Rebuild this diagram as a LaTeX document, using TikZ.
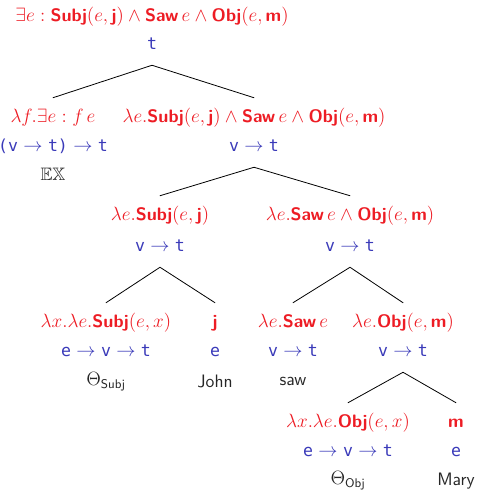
\documentclass[tikz,border=0pt]{standalone}
\usepackage{amsmath,amssymb}
\usepackage{fontspec}
\setmonofont{DejaVu Sans Mono}[Scale=0.92]
\definecolor{termred}{RGB}{237,28,36}
\definecolor{typeblue}{RGB}{58,58,185}
\newcommand{\cn}[1]{\textsf{\textbf{#1}}}
\newcommand{\tyto}{${}\rightarrow{}$}
\tikzset{
  term/.style={text=termred, text height=10pt, text depth=3pt, inner xsep=0pt, inner ysep=8.5pt},
  typ/.style={text=typeblue, font=\ttfamily\fontsize{13.5}{16}\selectfont, text height=10pt, text depth=3pt, inner xsep=0pt, inner ysep=8.5pt},
  word/.style={text=black!85, font=\sffamily\fontsize{13.5}{16}\selectfont},
  branch/.style={line width=0.6pt}
}
\begin{document}
\begin{tikzpicture}[x=0.75pt,y=-0.75pt, font=\fontsize{13.5}{16}\selectfont, line join=round, line cap=round]
\useasboundingbox (0,0) rectangle (477,491);
% root
\node[term] (rootT) at (152,17) {$\exists e:\cn{Subj}(e,\cn{j})\wedge\cn{Saw}\,e\wedge\cn{Obj}(e,\cn{m})$};
\node[typ] (rootY) at (152,45) {t};
% first level
\node[term] (exT) at (53,118) {$\lambda f.\exists e: f\,e$};
\node[typ] (exY) at (53,147) {(v\tyto t)\tyto t};
\node[word] (exW) at (53,174) {$\mathbb{EX}$};
\node[term] (predT) at (254,118) {$\lambda e.\cn{Subj}(e,\cn{j})\wedge\cn{Saw}\,e\wedge\cn{Obj}(e,\cn{m})$};
\node[typ] (predY) at (254,147) {v\tyto t};
% second level
\node[term] (subjT) at (160,216) {$\lambda e.\cn{Subj}(e,\cn{j})$};
\node[typ] (subjY) at (160,247) {v\tyto t};
\node[term] (sawobjT) at (350,216) {$\lambda e.\cn{Saw}\,e\wedge\cn{Obj}(e,\cn{m})$};
\node[typ] (sawobjY) at (350,247) {v\tyto t};
% third level
\node[term] (thetaST) at (106,323) {$\lambda x.\lambda e.\cn{Subj}(e,x)$};
\node[typ] (thetaSY) at (106,352) {e\tyto v\tyto t};
\node[word] (thetaSW) at (106,382) {$\Theta_{\mathsf{Subj}}$};
\node[term] (johnT) at (215,323) {$\cn{j}$};
\node[typ] (johnY) at (215,352) {e};
\node[word] (johnW) at (215,381) {John};
\node[term] (sawT) at (293,323) {$\lambda e.\cn{Saw}\,e$};
\node[typ] (sawY) at (293,352) {v\tyto t};
\node[word] (sawW) at (293,381) {saw};
\node[term] (objT) at (403,323) {$\lambda e.\cn{Obj}(e,\cn{m})$};
\node[typ] (objY) at (403,352) {v\tyto t};
% fourth level
\node[term] (thetaOT) at (348,423) {$\lambda x.\lambda e.\cn{Obj}(e,x)$};
\node[typ] (thetaOY) at (348,452) {e\tyto v\tyto t};
\node[word] (thetaOW) at (348,481) {$\Theta_{\mathsf{Obj}}$};
\node[term] (maryT) at (456,423) {$\cn{m}$};
\node[typ] (maryY) at (456,452) {e};
\node[word] (maryW) at (456,481) {Mary};
% branches
\draw[branch] (exT.north) -- (rootY.south) -- (predT.north);
\draw[branch] (subjT.north) -- (predY.south) -- (sawobjT.north);
\draw[branch] (thetaST.north) -- (subjY.south) -- (johnT.north);
\draw[branch] (sawT.north) -- (sawobjY.south) -- (objT.north);
\draw[branch] (thetaOT.north) -- (objY.south) -- (maryT.north);
\end{tikzpicture}
\end{document}
